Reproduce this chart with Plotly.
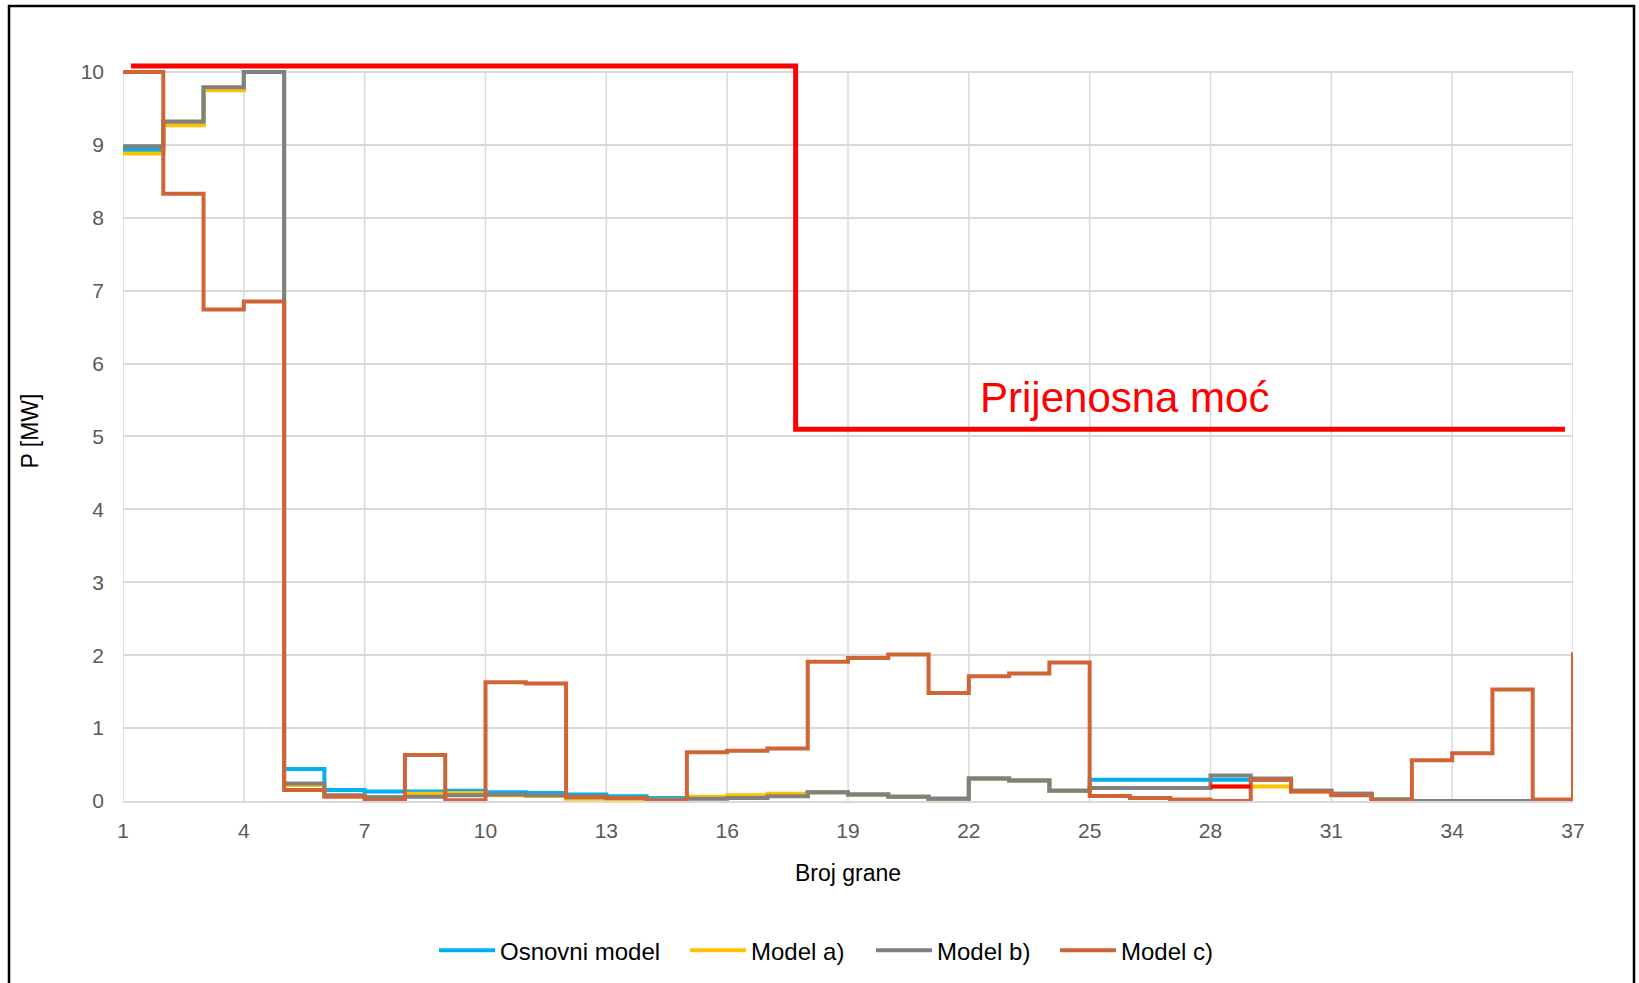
import plotly.graph_objects as go

# Branch numbers (step start points)
grane = list(range(1, 38))

# Branch power flows [MW], one value per branch
osnovni_model = [8.93, 9.30, 9.78, 10.0, 0.44, 0.15, 0.13, 0.13, 0.14, 0.12,
                 0.11, 0.09, 0.065, 0.04, 0.04, 0.05, 0.07, 0.12, 0.09, 0.06,
                 0.03, 0.31, 0.28, 0.14, 0.29, 0.29, 0.29, 0.29, 0.29, 0.14,
                 0.10, 0.02, 0.0, 0.0, 0.0, 0.0, 0.0]
model_a = [8.88, 9.27, 9.75, 10.0, 0.22, 0.07, 0.05, 0.10, 0.11, 0.08,
           0.07, 0.03, 0.02, 0.02, 0.06, 0.08, 0.10, 0.12, 0.09, 0.06,
           0.03, 0.31, 0.28, 0.14, 0.18, 0.18, 0.18, 0.20, 0.20, 0.13,
           0.09, 0.02, 0.0, 0.0, 0.0, 0.0, 0.0]
model_b = [8.98, 9.32, 9.79, 10.0, 0.24, 0.08, 0.05, 0.06, 0.08, 0.09,
           0.08, 0.05, 0.04, 0.02, 0.03, 0.04, 0.065, 0.12, 0.09, 0.06,
           0.03, 0.31, 0.28, 0.14, 0.18, 0.18, 0.18, 0.35, 0.31, 0.14,
           0.10, 0.02, 0.0, 0.0, 0.0, 0.0, 0.0]
model_c = [10.0, 8.33, 6.74, 6.85, 0.15, 0.06, 0.01, 0.63, 0.01, 1.63,
           1.61, 0.06, 0.04, 0.0, 0.67, 0.69, 0.72, 1.91, 1.96, 2.01,
           1.48, 1.71, 1.75, 1.90, 0.07, 0.04, 0.02, 0.0, 0.29, 0.13,
           0.08, 0.0, 0.56, 0.655, 1.53, 0.02, 2.04]

# Highlighted Model a) segment on branch 28
istaknuto_x = [28, 29]
istaknuto_y = [0.20, 0.20]

# Transmission capacity limit
prijenosna_x = [1.2, 17.7, 17.7, 36.8]
prijenosna_y = [10.08, 10.08, 5.10, 5.10]

x_ticks = list(range(1, 38, 3))
y_ticks = list(range(0, 11))

FONT = "Liberation Sans, Arial, sans-serif"
W, H = 1639, 983
L, R, T, B = 123, 66, 61, 182
plot_w = W - L - R
plot_h = H - T - B

fig = go.Figure()

# name, values, colour, legend id, legend left edge [px]
series = [
    ("Osnovni model", osnovni_model, "#00B0F0", "legend", 434),
    ("Model a)", model_a, "#FFC000", "legend2", 685),
    ("Model b)", model_b, "#808080", "legend3", 871),
    ("Model c)", model_c, "#CF6535", "legend4", 1055),
]
legend_layout = {}
for name, vals, color, leg, left in series:
    fig.add_trace(go.Scatter(
        x=grane, y=vals, name=name, mode="lines", legend=leg,
        line=dict(color=color, width=4, shape="hv"),
    ))
    legend_layout[leg] = dict(
        orientation="h", xref="container", yref="container",
        x=left / W, xanchor="left", y=0.033, yanchor="middle",
        font=dict(size=24, color="#000000", family=FONT),
        bgcolor="rgba(0,0,0,0)", itemwidth=56,
    )

fig.add_trace(go.Scatter(
    x=istaknuto_x, y=istaknuto_y, mode="lines", showlegend=False,
    line=dict(color="#FF0000", width=4),
))
fig.add_trace(go.Scatter(
    x=prijenosna_x, y=prijenosna_y, mode="lines", showlegend=False,
    line=dict(color="#FF0000", width=5),
))

# Vertical gridlines limited to the 0..10 band
shapes = [
    dict(type="line", xref="x", yref="y", x0=t, x1=t, y0=0, y1=10,
         line=dict(color="#D9D9D9", width=1.5), layer="below")
    for t in x_ticks
]
# Outer chart frame (paper y: 0 at plot bottom, 1 at plot top)
shapes.append(dict(
    type="rect", xref="paper", yref="paper",
    x0=(9 - L) / plot_w, x1=(1634 - L) / plot_w,
    y0=(T + plot_h - 995) / plot_h, y1=(T + plot_h - 6) / plot_h,
    line=dict(color="black", width=2.5), fillcolor="rgba(0,0,0,0)", layer="above",
))

fig.update_layout(
    width=W, height=H,
    margin=dict(l=L, r=R, t=T, b=B),
    paper_bgcolor="white", plot_bgcolor="white",
    font=dict(family=FONT, color="#000000"),
    shapes=shapes,
    showlegend=True,
    annotations=[dict(
        x=25.87, y=5.53, xref="x", yref="y", text="Prijenosna moć",
        showarrow=False, font=dict(size=42, color="#FF0000", family=FONT),
        xanchor="center", yanchor="middle",
    )],
    **legend_layout,
)

fig.update_xaxes(
    range=[1, 37], tickvals=x_ticks, ticktext=[str(t) for t in x_ticks],
    showgrid=False, zeroline=False,
    showline=True, linecolor="#D9D9D9", linewidth=1.5,
    tickfont=dict(size=21, color="#595959"), ticklabelstandoff=10,
    title=dict(text="Broj grane", font=dict(size=23, color="#000000"), standoff=24),
)
fig.update_yaxes(
    range=[0, 10.15], tickvals=y_ticks, ticktext=[str(t) for t in y_ticks],
    showgrid=True, gridcolor="#D9D9D9", gridwidth=1.5, zeroline=False,
    tickfont=dict(size=21, color="#595959"), ticklabelstandoff=18,
    title=dict(text="P [MW]", font=dict(size=23, color="#000000"), standoff=35),
)

fig.write_html("out.html")
